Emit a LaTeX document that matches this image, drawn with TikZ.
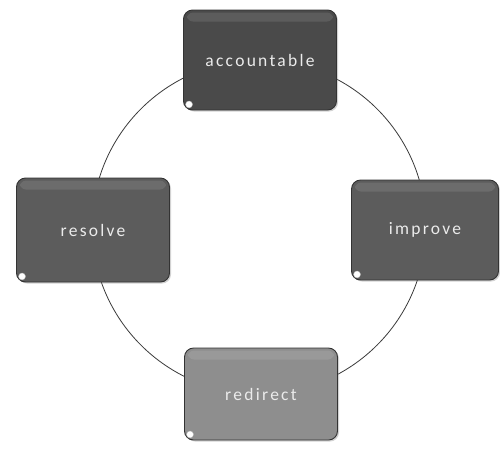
\documentclass[tikz,border=0pt]{standalone}
\usepackage{fontspec}
\setmainfont{Carlito}[LetterSpace=13]
\usetikzlibrary{shadows}
\definecolor{boxdark}{HTML}{4A4A4A}
\definecolor{boxmid}{HTML}{5C5C5C}
\definecolor{boxlight}{HTML}{8E8E8E}
\definecolor{ringcol}{HTML}{3A3A3A}
\tikzset{
  stagebox/.style={draw=black!80, line width=0.9pt, rounded corners=9pt,
    minimum width=153pt, minimum height=100pt, inner sep=0pt,
    text=white!92!black, font=\fontsize{17.5}{20}\selectfont,
    drop shadow={shadow xshift=1.5pt, shadow yshift=-1.5pt, opacity=0.35}},
  dotmark/.style={circle, fill=white, draw=black!30, line width=0.3pt, minimum size=7pt, inner sep=0pt},
}
\begin{document}
\begin{tikzpicture}[x=1pt,y=-1pt]
\useasboundingbox (0,0) rectangle (500,448);
\fill[white] (0,0) rectangle (500,448);
\coordinate (c) at (259,227);
\draw[ringcol, line width=0.8pt] (c) circle[radius=167pt];
\node[stagebox, fill=boxdark] (acc) at (260,60) {accountable};
\node[stagebox, fill=boxmid, minimum width=147pt] (imp) at (425,230) {improve};
\node[stagebox, fill=boxmid, minimum height=104pt] (res) at (93,230) {resolve};
\node[stagebox, fill=boxlight, minimum height=92pt] (red) at (261,394) {redirect};
\foreach \n in {acc,imp,res,red}{
  \fill[white, opacity=0.10, rounded corners=6pt] ([shift={(4pt,-3pt)}]\n.north west) rectangle ([shift={(-4pt,-12pt)}]\n.north east);
  \node[dotmark] (\n-dot) at ([shift={(6pt,6pt)}]\n.south west) {};
}
\end{tikzpicture}
\end{document}
